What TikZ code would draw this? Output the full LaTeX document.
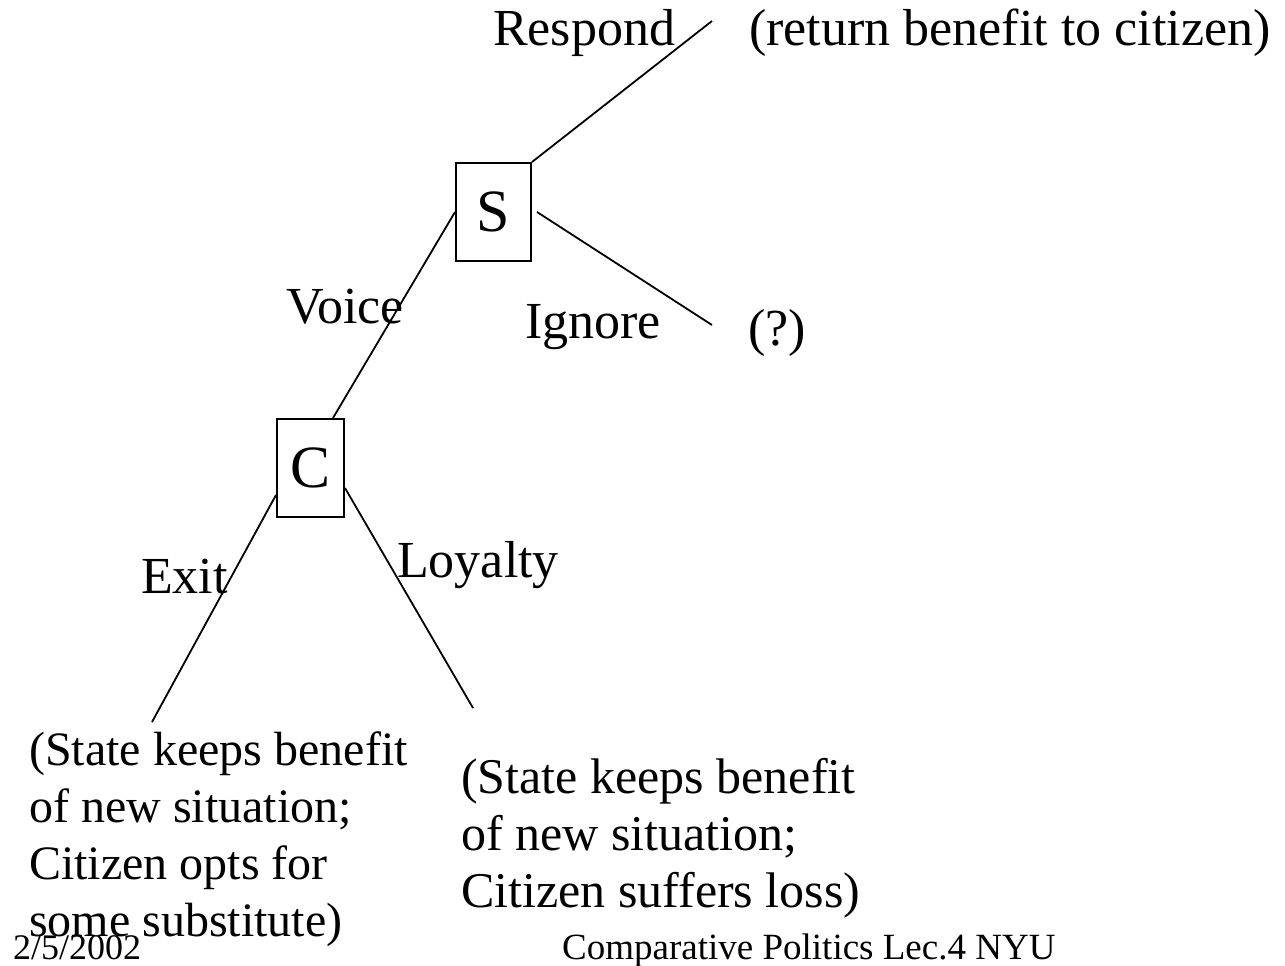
\documentclass[tikz,border=0pt]{standalone}
\usepackage{fontspec}
\setmainfont{Liberation Serif}
\usetikzlibrary{calc}
\begin{document}
\begin{tikzpicture}[x=1pt,y=-1pt,
  player/.style={draw,line width=2pt,inner sep=0pt,font=\fontsize{60}{66}\selectfont},
  label/.style={font=\fontsize{52}{60}\selectfont,anchor=base west,inner sep=0pt},
  outcome/.style={anchor=base west,inner sep=0pt,align=left},
  footer/.style={anchor=base west,inner sep=0pt},
  branch/.style={line width=1.8pt}]
\useasboundingbox (0,0) rectangle (1285,966);

% decision nodes
\node[player,minimum width=75pt,minimum height=98pt] (S) at (493.5,212) {S};
\node[player,minimum width=67pt,minimum height=98pt] (C) at (310.5,468) {C};

% free ends of the branches
\coordinate (respEnd) at (712,21);
\coordinate (ignEnd) at (712,325);
\coordinate (exitEnd) at (152,722);
\coordinate (loyEnd) at (473,708);

% branches
\draw[branch] (S.north east) -- (respEnd);
\draw[branch] ($(S.east)+(5,0)$) -- (ignEnd);
\draw[branch] (S.west) -- ($(C.north)+(22.5,0)$);
\draw[branch] ($(C.west)+(0,27)$) -- (exitEnd);
\draw[branch] ($(C.east)+(0,20)$) -- (loyEnd);

% move labels
\node[label] (respond) at (493,46) {Respond};
\node[label] (ignore) at (525,338) {Ignore};
\node[label] (voice) at (286,323) {Voice};
\node[label] (exit) at (141,593) {Exit};
\node[label] (loyalty) at (397,577) {Loyalty};

% payoffs
\node[label] (respPay) at (749,46) {(return benefit to citizen)};
\node[label] (ignPay) at (748,345) {(?)};
% multi-line blocks: the base anchor sits on the last line
\node[outcome,font=\fontsize{48}{57}\selectfont] (exitPay) at (29,936)
  {(State keeps benefit\\of new situation;\\Citizen opts for\\some substitute)};
\node[outcome,font=\fontsize{50}{57}\selectfont] (loyPay) at (461,907)
  {(State keeps benefit\\of new situation;\\Citizen suffers loss)};

% footer
\node[footer,font=\fontsize{36}{42}\selectfont] (date) at (13,959) {2/5/2002};
\node[footer,font=\fontsize{37}{42}\selectfont] (course) at (562,959) {Comparative Politics Lec.4 NYU};
\end{tikzpicture}
\end{document}
